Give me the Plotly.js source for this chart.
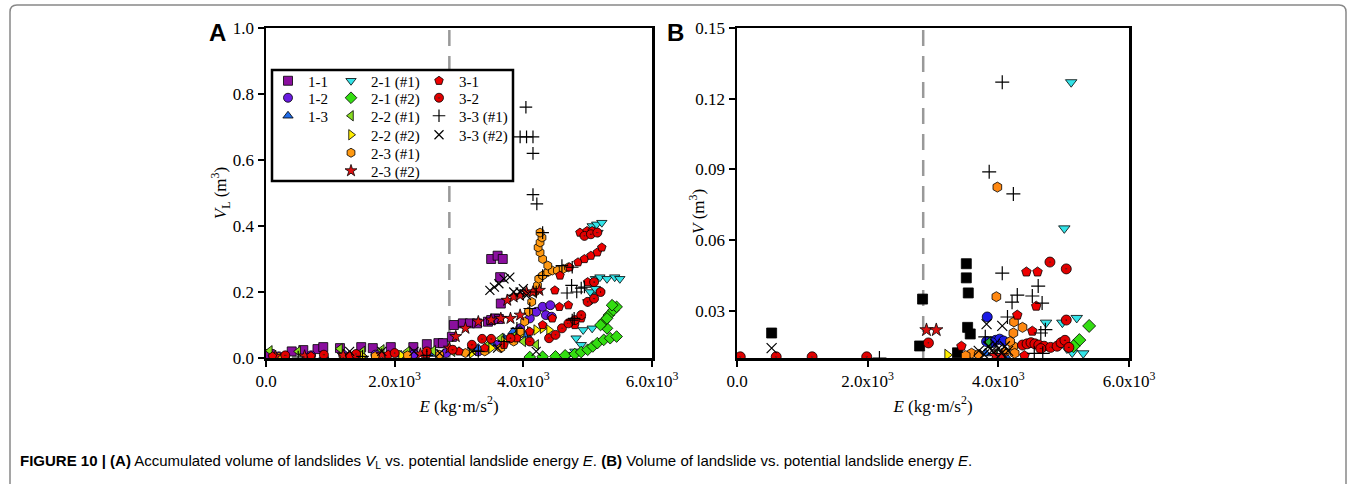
<!DOCTYPE html>
<html><head><meta charset="utf-8">
<script src="https://cdn.plot.ly/plotly-3.0.1.min.js"></script>
<style>html,body{margin:0;padding:0;background:#fff}</style>
</head><body><div id="c" style="width:1356px;height:484px"></div>
<script>
// ---- Panel A data (E, VL) ----
const a11x=[60,400,580,800,890,1150,1480,1660,1940,2290,2500,2680,2750,2890,2920,3060,3170,3280,3450,3500,3560,3620,3650,3640,3500,3600,3680];
const a11y=[0.012,0.02,0.024,0.027,0.033,0.03,0.033,0.03,0.033,0.033,0.042,0.045,0.045,0.064,0.1,0.105,0.105,0.105,0.11,0.115,0.12,0.118,0.165,0.245,0.30,0.31,0.30];
const a12x=[200,700,1200,1700,2300,2800,3300,3600,3800,3950,4100,4200,4300,4420,4350,4440];
const a12y=[0.005,0.008,0.01,0.01,0.012,0.015,0.02,0.04,0.06,0.09,0.12,0.14,0.155,0.16,0.13,0.125];
const a13x=[300,900,1500,2100,2600,3000,3300,3500,3700,3840,3950,4050];
const a13y=[0.004,0.006,0.008,0.01,0.012,0.02,0.03,0.045,0.06,0.08,0.085,0.07];
const a21ax=[4700,4800,4900,4820,4930,5070,5000,5060,5100,5040,5120,5070,5120,5190,5300,5420,5500,5070,5140,5220,5160];
const a21ay=[0.01,0.02,0.04,0.06,0.085,0.09,0.17,0.175,0.19,0.2,0.21,0.23,0.24,0.245,0.24,0.245,0.24,0.40,0.405,0.41,0.38];
const a21bx=[4100,4300,4500,4650,4800,4900,5000,5080,5150,5250,5350,5450,5300,5250,5330,5400,5450,5380,5300,5200];
const a21by=[0.003,0.004,0.005,0.008,0.012,0.018,0.025,0.035,0.045,0.055,0.06,0.065,0.09,0.11,0.13,0.145,0.155,0.16,0.12,0.1];
const a22ax=[60,500,1150,1500,1800,2200,2600,2900,3200,3450,3650,3850,4000,4200];
const a22ay=[0.022,0.02,0.028,0.02,0.025,0.02,0.022,0.02,0.03,0.04,0.06,0.065,0.05,0.04];
const a22bx=[300,900,1500,2100,2700,3200,3500,3700,3850,3950,4100,4200,4300,4400];
const a22by=[0.003,0.005,0.006,0.008,0.01,0.015,0.03,0.05,0.06,0.07,0.08,0.085,0.09,0.085];
const a23ax=[200,700,1200,1700,2200,2700,3100,3400,3650,3850,3950,4020,4080,4130,4180,4220,4240,4300,4380,4450,4530,4620,4700,4380,4300,4260,4230,4260,4290,4260];
const a23ay=[0.003,0.004,0.005,0.006,0.008,0.01,0.015,0.02,0.03,0.05,0.08,0.11,0.14,0.17,0.2,0.22,0.24,0.25,0.26,0.265,0.265,0.27,0.275,0.28,0.30,0.32,0.335,0.35,0.365,0.38];
const a23bx=[150,600,1200,1800,2400,2850,2950,3100,3300,3500,3650,3800,3950,3750,3850,3950,4050,4150,4250];
const a23by=[0.005,0.006,0.008,0.01,0.012,0.03,0.065,0.09,0.11,0.115,0.12,0.12,0.13,0.175,0.185,0.19,0.2,0.2,0.205];
const a31x=[100,700,1300,1900,2500,3000,3400,3700,3900,4100,4300,4450,4560,4700,4490,4570,4720,4850,4950,5050,5150,5220,4880,4990,5070,5200,5000,4800,4900];
const a31y=[0.005,0.006,0.008,0.01,0.012,0.02,0.03,0.04,0.06,0.08,0.1,0.12,0.155,0.16,0.205,0.25,0.275,0.29,0.3,0.31,0.32,0.335,0.38,0.385,0.385,0.2,0.23,0.1,0.12];
const a32x=[300,900,1400,2000,2500,2900,3200,3360,3500,3800,4100,4400,4500,4600,4700,4800,4900,5000,5100,5200,5100,4950,5050,5150];
const a32y=[0.008,0.01,0.012,0.015,0.02,0.025,0.04,0.058,0.058,0.06,0.05,0.06,0.07,0.09,0.105,0.115,0.13,0.17,0.18,0.2,0.23,0.37,0.375,0.38];
const a33ax=[500,1500,2500,3300,3700,3900,4100,4200,4300,4300,4600,4760,4750,4830,4680,4900,4950,4760,4790,4040,3950,4050,4150,4150,4150,4210];
const a33ay=[0.003,0.005,0.008,0.02,0.05,0.09,0.15,0.2,0.25,0.38,0.28,0.275,0.22,0.2,0.197,0.212,0.215,0.115,0.12,0.76,0.67,0.67,0.67,0.62,0.495,0.467];
const a33bx=[1300,1800,2300,2700,3200,3480,3550,3620,3700,3790,3850,3950,4000,4050,3600,4200];
const a33by=[0.02,0.02,0.02,0.015,0.02,0.205,0.215,0.225,0.24,0.245,0.2,0.2,0.21,0.19,0.03,0.02];

// ---- Panel B data (E, V) ----
const b11x=[530,2795,2840,3375,3510,3510,3540,3530,3570];
const b11y=[0.0206,0.0151,0.035,0.0122,0.050,0.044,0.0376,0.023,0.0202];
const b12x=[3830,3820,3960,4020,4080,3900];
const b12y=[0.0274,0.017,0.0175,0.018,0.0172,0.0165];
const b13x=[3800,4100];
const b13y=[0.012,0.011];
const b21ax=[5115,5010,4730,4980,5200,5300,5130,5050];
const b21ay=[0.127,0.065,0.025,0.025,0.027,0.012,0.0123,0.014];
const b21bx=[5390,5240,5150];
const b21by=[0.0236,0.0176,0.015];
const b22ax=[3850,3950];
const b22ay=[0.0166,0.0115];
const b22bx=[3220];
const b22by=[0.0113];
const b23ax=[3985,3970,4240,4370,4230,4230,3590,3700,4250,4100,4180,3500];
const b23ay=[0.0825,0.036,0.0253,0.023,0.0206,0.015,0.012,0.0115,0.012,0.0125,0.017,0.011];
const b23bx=[2900,3050,3950,4050];
const b23by=[0.0219,0.0219,0.011,0.011];
const b31x=[4430,4600,4580,4290,4520,3435,4400];
const b31y=[0.0465,0.0465,0.032,0.0282,0.0214,0.015,0.011];
const b32x=[50,600,1150,1985,2930,4790,5040,5040,4370,4440,4500,4560,4620,4700,4800,4900,4960,5020,5080,4650];
const b32y=[0.0105,0.0105,0.0105,0.0105,0.0164,0.0507,0.0478,0.0261,0.0155,0.016,0.0165,0.016,0.0155,0.015,0.0145,0.015,0.0165,0.0175,0.0145,0.014];
const b33ax=[4060,3860,4230,4060,4610,4520,4290,4210,4670,4140,4650,4720,3800,4550,4680,2180];
const b33ay=[0.127,0.089,0.0796,0.046,0.0405,0.0363,0.0367,0.0337,0.0333,0.0274,0.0206,0.022,0.019,0.012,0.012,0.01];
const b33bx=[530,3820,4060,3700,3850,3900,3950,4000,4050,4100,4150,3780];
const b33by=[0.0142,0.0244,0.0236,0.013,0.015,0.013,0.016,0.014,0.012,0.015,0.013,0.0115];

const thresholdE=[2850];
const xTickVals=[0,2000,4000,6000];
const xTickText=['0.0','2.0x10<sup>3</sup>','4.0x10<sup>3</sup>','6.0x10<sup>3</sup>'];
const yATicks=[0,0.2,0.4,0.6,0.8,1.0];
const yATickText=['0.0','0.2','0.4','0.6','0.8','1.0'];
const yBTicks=[0.03,0.06,0.09,0.12,0.15];
const yBTickText=['0.03','0.06','0.09','0.12','0.15'];

const serif='Liberation Serif, Times New Roman, serif';
function mk(x,y,name,symbol,color,opts){
  opts=opts||{};
  const thin=symbol.indexOf('thin')>=0;
  return {type:'scatter',mode:'markers',x:x,y:y,name:name,
    xaxis:opts.xa||'x',yaxis:opts.ya||'y',
    legend:opts.legend||'legend',showlegend:opts.showlegend!==false,
    marker:{symbol:symbol,size:opts.size||9,color:color,
      line:{color:'#000',width:thin?1.2:0.8}}};
}
// one legend per entry so the 3-column boxed legend can be laid out like the original
const traces=[
  mk(a11x,a11y,'1-1','square','#8a0f9e',{legend:'legend'}),
  mk(a12x,a12y,'1-2','circle','#6a1be0',{legend:'legend2'}),
  mk(a13x,a13y,'1-3','triangle-up','#1f6be8',{legend:'legend3'}),
  mk(a21ax,a21ay,'2-1 (#1)','triangle-down','#33e3e8',{legend:'legend4'}),
  mk(a21bx,a21by,'2-1 (#2)','diamond','#33dd11',{legend:'legend5'}),
  mk(a22ax,a22ay,'2-2 (#1)','triangle-left','#88dd22',{legend:'legend6'}),
  mk(a22bx,a22by,'2-2 (#2)','triangle-right','#ffee00',{legend:'legend7'}),
  mk(a23ax,a23ay,'2-3 (#1)','hexagon','#ff9911',{legend:'legend8'}),
  mk(a23bx,a23by,'2-3 (#2)','star','#dd1111',{legend:'legend9'}),
  mk(a31x,a31y,'3-1','pentagon','#ee0000',{legend:'legend10'}),
  mk(a32x,a32y,'3-2','circle-dot','#e00000',{legend:'legend11'}),
  mk(a33ax,a33ay,'3-3 (#1)','cross-thin','#000',{legend:'legend12'}),
  mk(a33bx,a33by,'3-3 (#2)','x-thin','#000',{legend:'legend13'}),
];
const B={xa:'x2',ya:'y2',showlegend:false,size:10};
traces.push(
  mk(b11x,b11y,'1-1','square','#000',B),
  mk(b12x,b12y,'1-2','circle','#1a1ae6',B),
  mk(b13x,b13y,'1-3','triangle-up','#1f6be8',B),
  mk(b21ax,b21ay,'2-1 (#1)','triangle-down','#33e3e8',B),
  mk(b21bx,b21by,'2-1 (#2)','diamond','#33dd11',B),
  mk(b22ax,b22ay,'2-2 (#1)','triangle-left','#22aa33',B),
  mk(b22bx,b22by,'2-2 (#2)','triangle-right','#ffee00',B),
  mk(b23ax,b23ay,'2-3 (#1)','hexagon','#ff8811',B),
  mk(b23bx,b23by,'2-3 (#2)','star','#dd1111',B),
  mk(b31x,b31y,'3-1','pentagon','#ee0000',B),
  mk(b32x,b32y,'3-2','circle-dot','#e00000',B),
  mk(b33ax,b33ay,'3-3 (#1)','cross-thin','#000',B),
  mk(b33bx,b33by,'3-3 (#2)','x-thin','#000',B)
);

const W=1356,H=484;
const px=v=>v/W, py=v=>1-v/H;
const tf={family:serif,size:17,color:'#000'};
const axBase={showgrid:false,zeroline:false,showline:true,linecolor:'#000',linewidth:2.5,mirror:true,
  ticks:'outside',ticklen:6,tickwidth:2,tickcolor:'#000',tickfont:tf};
const legBase={bgcolor:'rgba(0,0,0,0)',borderwidth:0,font:{family:serif,size:15,color:'#000'},
  xanchor:'left',yanchor:'middle',tracegroupgap:0,itemwidth:30};
const colX=[268,331,419], rowY=[81,98,116,135,153,171];
const legendPos=[[0,0],[0,1],[0,2],[1,0],[1,1],[1,2],[1,3],[1,4],[1,5],[2,0],[2,1],[2,2],[2,3]];
const layout={
  width:W,height:H,margin:{l:0,r:0,t:0,b:0},paper_bgcolor:'#fff',plot_bgcolor:'#fff',
  xaxis:Object.assign({},axBase,{domain:[px(266),px(652)],range:[0,6000],tickvals:xTickVals,ticktext:xTickText,anchor:'y',
    title:{text:'<i>E</i> (kg·m/s<sup>2</sup>)',font:tf,standoff:10}}),
  yaxis:Object.assign({},axBase,{domain:[py(358),py(28)],range:[0,1.0],tickvals:yATicks,ticktext:yATickText,anchor:'x',
    title:{text:'<i>V</i><sub>L</sub> (m<sup>3</sup>)',font:tf,standoff:0}}),
  xaxis2:Object.assign({},axBase,{domain:[px(737),px(1129)],range:[0,6000],tickvals:xTickVals,ticktext:xTickText,anchor:'y2',
    title:{text:'<i>E</i> (kg·m/s<sup>2</sup>)',font:tf,standoff:10}}),
  yaxis2:Object.assign({},axBase,{domain:[py(358),py(28)],range:[0.01,0.15],tickvals:yBTicks,ticktext:yBTickText,anchor:'x2'}),
  shapes:[
    {type:'line',xref:'x',yref:'paper',x0:thresholdE[0],x1:thresholdE[0],y0:py(358),y1:py(28),line:{color:'#999',width:2.5,dash:'16px,10px'},layer:'below'},
    {type:'line',xref:'x2',yref:'paper',x0:thresholdE[0],x1:thresholdE[0],y0:py(358),y1:py(28),line:{color:'#999',width:2.5,dash:'16px,10px'},layer:'below'},
    {type:'rect',xref:'paper',yref:'paper',x0:px(272),x1:px(513),y0:py(70),y1:py(181),line:{color:'#000',width:2.5},fillcolor:'#fff',layer:'above'},
    {type:'path',xref:'paper',yref:'paper',path:`M ${px(10)},0 L ${px(10)},${py(12)} Q ${px(10)},${py(5)} ${px(17)},${py(5)} L ${px(1339)},${py(5)} Q ${px(1346)},${py(5)} ${px(1346)},${py(12)} L ${px(1346)},0`,line:{color:'#888',width:1.5}}
  ],
  annotations:[
    {xref:'paper',yref:'paper',x:px(697),y:py(212),xanchor:'center',yanchor:'middle',textangle:-90,showarrow:false,text:'<i>V</i> (m<sup>3</sup>)',font:tf},
    {xref:'paper',yref:'paper',x:px(207),y:py(33),xanchor:'left',yanchor:'middle',showarrow:false,text:'<b>A</b>',font:{family:'Liberation Sans, Arial, sans-serif',size:24,color:'#000'}},
    {xref:'paper',yref:'paper',x:px(665),y:py(33),xanchor:'left',yanchor:'middle',showarrow:false,text:'<b>B</b>',font:{family:'Liberation Sans, Arial, sans-serif',size:24,color:'#000'}},
    {xref:'paper',yref:'paper',x:px(18),y:py(461),xanchor:'left',yanchor:'middle',showarrow:false,
      text:'<b>FIGURE 10 | (A)</b> Accumulated volume of landslides <i>V</i><sub>L</sub> vs. potential landslide energy <i>E</i>. <b>(B)</b> Volume of landslide vs. potential landslide energy <i>E</i>.',
      font:{family:'Liberation Sans Narrow, Liberation Sans, Arial, sans-serif',size:15,color:'#000'}}
  ]
};
legendPos.forEach((p,i)=>{
  const key=i===0?'legend':'legend'+(i+1);
  layout[key]=Object.assign({},legBase,{x:px(colX[p[0]]),y:py(rowY[p[1]])});
});
Plotly.newPlot('c',traces,layout,{displayModeBar:false,staticPlot:true});
</script></body></html>
